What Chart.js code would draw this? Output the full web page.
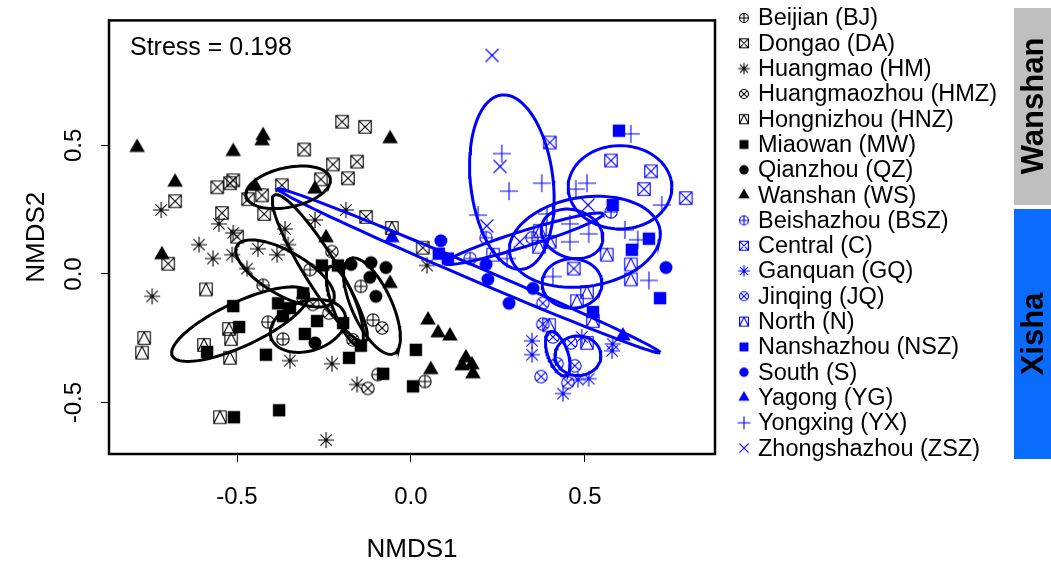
<!DOCTYPE html>
<html>
<head>
<meta charset="utf-8">
<script src="https://cdn.jsdelivr.net/npm/chart.js@4.4.1/dist/chart.umd.min.js"></script>
<style>
html, body { margin: 0; padding: 0; background: #fff; }
#wrap { position: relative; width: 1051px; height: 569px; }
</style>
</head>
<body>
<div id="wrap"><canvas id="chart" width="1051" height="569"></canvas></div>
<script>
// NMDS site scores, one array of [NMDS1, NMDS2] per reef site
const beijian = [[-0.290,0.017],[-0.425,-0.044],[-0.411,-0.187],[-0.368,-0.253],[-0.144,-0.048],[-0.109,-0.179],[-0.095,-0.391],[0.040,-0.418]]
const dongao = [[-0.307,0.484],[-0.198,0.592],[-0.132,0.572],[-0.224,0.426],[-0.155,0.437],[-0.259,0.368],[-0.181,0.372],[-0.129,0.222],[-0.557,0.337],[-0.520,0.353],[-0.511,0.364],[-0.678,0.283],[-0.543,0.237],[-0.500,0.145],[-0.428,0.306],[-0.468,0.291],[-0.371,0.345],[-0.422,0.233],[-0.698,0.040],[0.034,0.102]]
const huangmao = [[-0.718,0.249],[-0.552,0.195],[-0.511,0.160],[-0.609,0.114],[-0.569,0.060],[-0.514,0.075],[-0.440,0.098],[-0.385,0.075],[-0.353,0.114],[-0.471,0.021],[-0.362,0.175],[-0.276,0.210],[-0.187,0.249],[-0.744,-0.087],[-0.348,-0.337],[-0.227,-0.349],[-0.155,-0.430],[0.046,0.033],[-0.244,-0.646]]
const huangmaozhou = [[-0.227,0.087],[-0.236,-0.152],[-0.167,-0.256],[-0.083,-0.210],[-0.124,-0.445],[-0.310,-0.094],[-0.282,-0.118]]
const hongnizhou = [[-0.589,-0.060],[-0.767,-0.249],[-0.773,-0.306],[-0.523,-0.214],[-0.517,-0.253],[-0.595,-0.276],[-0.520,-0.326],[-0.549,-0.557],[-0.055,0.179]]
const miaowan = [[-0.511,-0.125],[-0.382,-0.114],[-0.348,-0.133],[-0.310,-0.075],[-0.494,-0.206],[-0.586,-0.303],[-0.417,-0.314],[-0.368,-0.164],[-0.305,-0.233],[-0.270,-0.183],[-0.195,-0.191],[-0.144,-0.279],[-0.178,-0.326],[-0.080,-0.388],[0.014,-0.295],[0.006,-0.437],[-0.509,-0.557],[-0.379,-0.530],[-0.256,0.033],[-0.210,0.033]]
const qianzhou = [[-0.172,0.037],[-0.115,0.044],[-0.072,0.025],[-0.118,-0.013],[-0.101,-0.087],[-0.276,-0.268]]
const wanshan = [[-0.787,0.492],[-0.511,0.476],[-0.425,0.538],[-0.428,0.518],[-0.060,0.526],[-0.678,0.357],[-0.448,0.341],[-0.276,0.330],[-0.716,0.075],[-0.244,0.141],[-0.060,-0.037],[0.049,-0.179],[0.078,-0.229],[0.112,-0.241],[0.057,-0.372],[0.158,-0.326],[0.147,-0.357],[0.175,-0.353],[0.178,-0.388]]

const beishazhou = [[0.170,0.060],[0.216,0.141],[0.348,0.141],[0.575,0.241]]
const central = [[0.399,0.511],[0.575,0.441],[0.690,0.399],[0.670,0.330],[0.790,0.295],[0.468,0.021]]
const ganquan = [[0.348,-0.260],[0.348,-0.314],[0.491,-0.245],[0.580,-0.272],[0.578,-0.299],[0.480,-0.411],[0.511,-0.407],[0.437,-0.465]]
const jinqing = [[0.379,-0.114],[0.379,-0.195],[0.408,-0.245],[0.460,-0.268],[0.420,-0.349],[0.471,-0.357],[0.374,-0.399],[0.451,-0.422]]
const north = [[0.236,0.075],[0.371,0.168],[0.368,0.106],[0.399,0.125],[0.563,0.075],[0.632,0.037],[0.632,-0.021],[0.506,-0.071],[0.477,-0.106],[0.523,-0.183],[0.397,-0.199],[0.506,-0.268]]
const nanshazhou = [[0.598,0.557],[0.580,0.268],[0.684,0.137],[0.635,0.094],[0.716,-0.094],[0.080,0.079],[0.106,0.060],[0.523,-0.148]]
const south = [[0.086,0.129],[0.216,0.037],[0.221,-0.021],[0.282,-0.114],[0.733,0.025],[0.351,-0.056]]
const yagong = [[-0.055,0.141],[0.609,-0.241]]
const yongxing = [[0.261,0.468],[0.632,0.545],[0.282,0.322],[0.193,0.229],[0.376,0.353],[0.474,0.330],[0.506,0.353],[0.721,0.268],[0.391,0.233],[0.457,0.195],[0.511,0.156],[0.457,0.125],[0.615,0.171],[0.652,0.133],[0.276,0.060],[0.684,-0.025],[0.408,-0.010]]
const zhongshazhou = [[0.233,0.850],[0.256,0.418],[0.218,0.187],[0.509,0.268],[0.313,0.125]]

// group ellipses: centre, first half-axis, second half-axis (NMDS units)
const ellipsesWanshan = [
    [-0.353, 0.337, 0.121, 0.035, 0.012, -0.075],
    [-0.262, 0.022, 0.130, -0.285, -0.042, -0.030],
    [-0.362, 0.002, 0.138, -0.108, -0.032, -0.073],
    [-0.491, -0.195, 0.195, 0.123, 0.027, -0.077],
    [-0.296, -0.202, 0.106, 0.046, 0.022, -0.092],
    [-0.190, -0.125, 0.043, -0.154, -0.032, -0.016],
    [-0.112, -0.125, 0.063, -0.185, -0.052, -0.032]
]
const ellipsesXisha = [
    [0.290, 0.357, 0.029, -0.339, -0.118, -0.017],
    [0.601, 0.337, 0.149, 0.000, 0.000, -0.162],
    [0.500, 0.125, 0.216, 0.046, 0.020, -0.171],
    [0.463, 0.156, 0.086, -0.039, -0.022, -0.088],
    [0.463, -0.037, 0.086, 0.000, 0.000, -0.096],
    [0.422, -0.310, 0.023, -0.085, -0.027, -0.013],
    [0.480, -0.318, 0.066, 0.000, 0.000, -0.077],
    [0.167, 0.012, 0.549, -0.318, -0.008, -0.025],
    [0.325, 0.137, 0.227, 0.096, 0.007, -0.029]
]

const siteLabels = ['Beijian (BJ)', 'Dongao (DA)', 'Huangmao (HM)', 'Huangmaozhou (HMZ)', 'Hongnizhou (HNZ)', 'Miaowan (MW)', 'Qianzhou (QZ)', 'Wanshan (WS)',
    'Beishazhou (BSZ)', 'Central (C)', 'Ganquan (GQ)', 'Jinqing (JQ)', 'North (N)', 'Nanshazhou (NSZ)', 'South (S)', 'Yagong (YG)', 'Yongxing (YX)', 'Zhongshazhou (ZSZ)']
const siteData = [beijian, dongao, huangmao, huangmaozhou, hongnizhou, miaowan, qianzhou, wanshan,
    beishazhou, central, ganquan, jinqing, north, nanshazhou, south, yagong, yongxing, zhongshazhou]
const siteShapes = ['oplus', 'boxx', 'star', 'otimes', 'boxtri', 'square', 'circle', 'triangle',
    'oplus', 'boxx', 'star', 'otimes', 'boxtri', 'square', 'circle', 'triangle', 'plus', 'cross']

const BLACK = '#000000'
const BLUE = '#0000ff'

// draws one plotting symbol into a small canvas, used as a pointStyle
function makeMarker(shape, color, k) {
    const s = Math.ceil(22 * k)
    const c = document.createElement('canvas')
    c.width = s
    c.height = s
    const g = c.getContext('2d')
    const m = s / 2
    const h = 6.2 * k
    g.strokeStyle = color
    g.fillStyle = color
    g.lineWidth = 1.1
    g.beginPath()
    if (shape === 'oplus') {
        g.arc(m, m, h, 0, 2 * Math.PI)
        g.moveTo(m - h, m); g.lineTo(m + h, m)
        g.moveTo(m, m - h); g.lineTo(m, m + h)
        g.stroke()
    } else if (shape === 'boxx') {
        g.rect(m - h, m - h, 2 * h, 2 * h)
        g.moveTo(m - h, m - h); g.lineTo(m + h, m + h)
        g.moveTo(m + h, m - h); g.lineTo(m - h, m + h)
        g.stroke()
    } else if (shape === 'otimes') {
        const d = h * 0.72
        g.arc(m, m, h, 0, 2 * Math.PI)
        g.moveTo(m - d, m - d); g.lineTo(m + d, m + d)
        g.moveTo(m + d, m - d); g.lineTo(m - d, m + d)
        g.stroke()
    } else if (shape === 'boxtri') {
        g.rect(m - h, m - h, 2 * h, 2 * h)
        g.moveTo(m - h, m + h); g.lineTo(m, m - h); g.lineTo(m + h, m + h)
        g.stroke()
    } else if (shape === 'star') {
        const a = 8 * k, d = a * 0.707
        g.moveTo(m - a, m); g.lineTo(m + a, m)
        g.moveTo(m, m - a); g.lineTo(m, m + a)
        g.moveTo(m - d, m - d); g.lineTo(m + d, m + d)
        g.moveTo(m + d, m - d); g.lineTo(m - d, m + d)
        g.stroke()
    } else if (shape === 'plus') {
        const a = 9 * k
        g.moveTo(m - a, m); g.lineTo(m + a, m)
        g.moveTo(m, m - a); g.lineTo(m, m + a)
        g.stroke()
    } else if (shape === 'cross') {
        const a = 6.5 * k
        g.moveTo(m - a, m - a); g.lineTo(m + a, m + a)
        g.moveTo(m + a, m - a); g.lineTo(m - a, m + a)
        g.stroke()
    } else if (shape === 'square') {
        g.fillRect(m - h, m - h, 2 * h, 2 * h)
    } else if (shape === 'circle') {
        g.arc(m, m, h * 1.05, 0, 2 * Math.PI)
        g.fill()
    } else if (shape === 'triangle') {
        const r = 9 * k
        g.moveTo(m, m - r)
        g.lineTo(m + r * 0.866, m + r * 0.5)
        g.lineTo(m - r * 0.866, m + r * 0.5)
        g.closePath()
        g.fill()
    }
    return c
}

// outline of an ellipse given centre and two half-axis vectors
function ellipseOutline(e) {
    const pts = []
    for (let i = 0; i <= 90; i++) {
        const t = i / 90 * 2 * Math.PI
        pts.push({ x: e[0] + e[2] * Math.cos(t) + e[4] * Math.sin(t), y: e[1] + e[3] * Math.cos(t) + e[5] * Math.sin(t) })
    }
    return pts
}

const datasets = []
ellipsesWanshan.forEach(e => datasets.push({ data: ellipseOutline(e), showLine: true, borderColor: BLACK, borderWidth: 3, pointRadius: 0, order: 0 }))
ellipsesXisha.forEach(e => datasets.push({ data: ellipseOutline(e), showLine: true, borderColor: BLUE, borderWidth: 3, pointRadius: 0, order: 0 }))
siteData.forEach((pts, i) => {
    const color = i < 8 ? BLACK : BLUE
    datasets.push({
        data: pts.map(p => ({ x: p[0], y: p[1] })),
        pointStyle: makeMarker(siteShapes[i], color, 1),
        pointRadius: 6,
        showLine: false,
        order: 1
    })
})

const legendMarkers = siteShapes.map((s, i) => makeMarker(s, i < 8 ? BLACK : BLUE, 0.72))

const FONT = '"Liberation Sans", Arial, sans-serif'

// frame, stress note, legend and the region bars on the right
const decorations = {
    id: 'decorations',
    afterDraw(chart) {
        const ctx = chart.ctx
        const a = chart.chartArea
        ctx.save()
        ctx.strokeStyle = '#000'
        ctx.lineWidth = 2.5
        ctx.strokeRect(a.left, a.top, a.right - a.left, a.bottom - a.top)

        ctx.fillStyle = '#000'
        ctx.font = '25px ' + FONT
        ctx.textBaseline = 'middle'
        ctx.textAlign = 'left'
        ctx.fillText('Stress = 0.198', 130, 48)

        ctx.font = '23.5px ' + FONT
        siteLabels.forEach((label, i) => {
            const y = 18 + i * 25.3
            const mk = legendMarkers[i]
            ctx.drawImage(mk, 744 - mk.width / 2, y - mk.height / 2)
            ctx.fillStyle = '#000'
            ctx.fillText(label, 758, y + 1)
        })

        ctx.fillStyle = '#bfbfbf'
        ctx.fillRect(1014, 8, 37, 197)
        ctx.fillStyle = '#0a6cff'
        ctx.fillRect(1014, 209, 37, 250)
        ctx.fillStyle = '#000'
        ctx.font = 'bold 31px ' + FONT
        ctx.textAlign = 'center'
        ctx.translate(1033, 106)
        ctx.rotate(-Math.PI / 2)
        ctx.fillText('Wanshan', 0, 1)
        ctx.rotate(Math.PI / 2)
        ctx.translate(0, 228)
        ctx.rotate(-Math.PI / 2)
        ctx.fillText('Xisha', 0, 1)
        ctx.restore()
    }
}

const tickFont = { family: FONT, size: 24 }
const titleFont = { family: FONT, size: 26 }

new Chart(document.getElementById('chart'), {
    type: 'scatter',
    data: { datasets: datasets },
    options: {
        responsive: false,
        animation: false,
        events: [],
        layout: { padding: { left: 0, right: 336, top: 17, bottom: 0 } },
        plugins: { legend: { display: false }, tooltip: { enabled: false } },
        scales: {
            x: {
                type: 'linear',
                min: -0.868,
                max: 0.874,
                afterFit: s => { s.height = 115 },
                grid: { drawOnChartArea: false, color: '#000', tickLength: 8, lineWidth: 1 },
                border: { display: false },
                ticks: { stepSize: 0.5, includeBounds: false, color: '#000', font: tickFont, padding: 21,
                    callback: v => v.toFixed(1), maxRotation: 0 },
                title: { display: true, text: 'NMDS1', color: '#000', font: titleFont, padding: { top: 0, bottom: 4 } }
            },
            y: {
                type: 'linear',
                min: -0.70,
                max: 0.986,
                afterFit: s => { s.width = 109 },
                grid: { drawOnChartArea: false, color: '#000', tickLength: 8, lineWidth: 1 },
                border: { display: false },
                ticks: { stepSize: 0.5, includeBounds: false, color: '#000', font: tickFont, padding: 6,
                    crossAlign: 'center', callback: v => v.toFixed(1), minRotation: 90, maxRotation: 90 },
                title: { display: true, text: 'NMDS2', color: '#000', font: titleFont, padding: { top: 21, bottom: 0 } }
            }
        }
    },
    plugins: [decorations]
})
</script>
</body>
</html>
